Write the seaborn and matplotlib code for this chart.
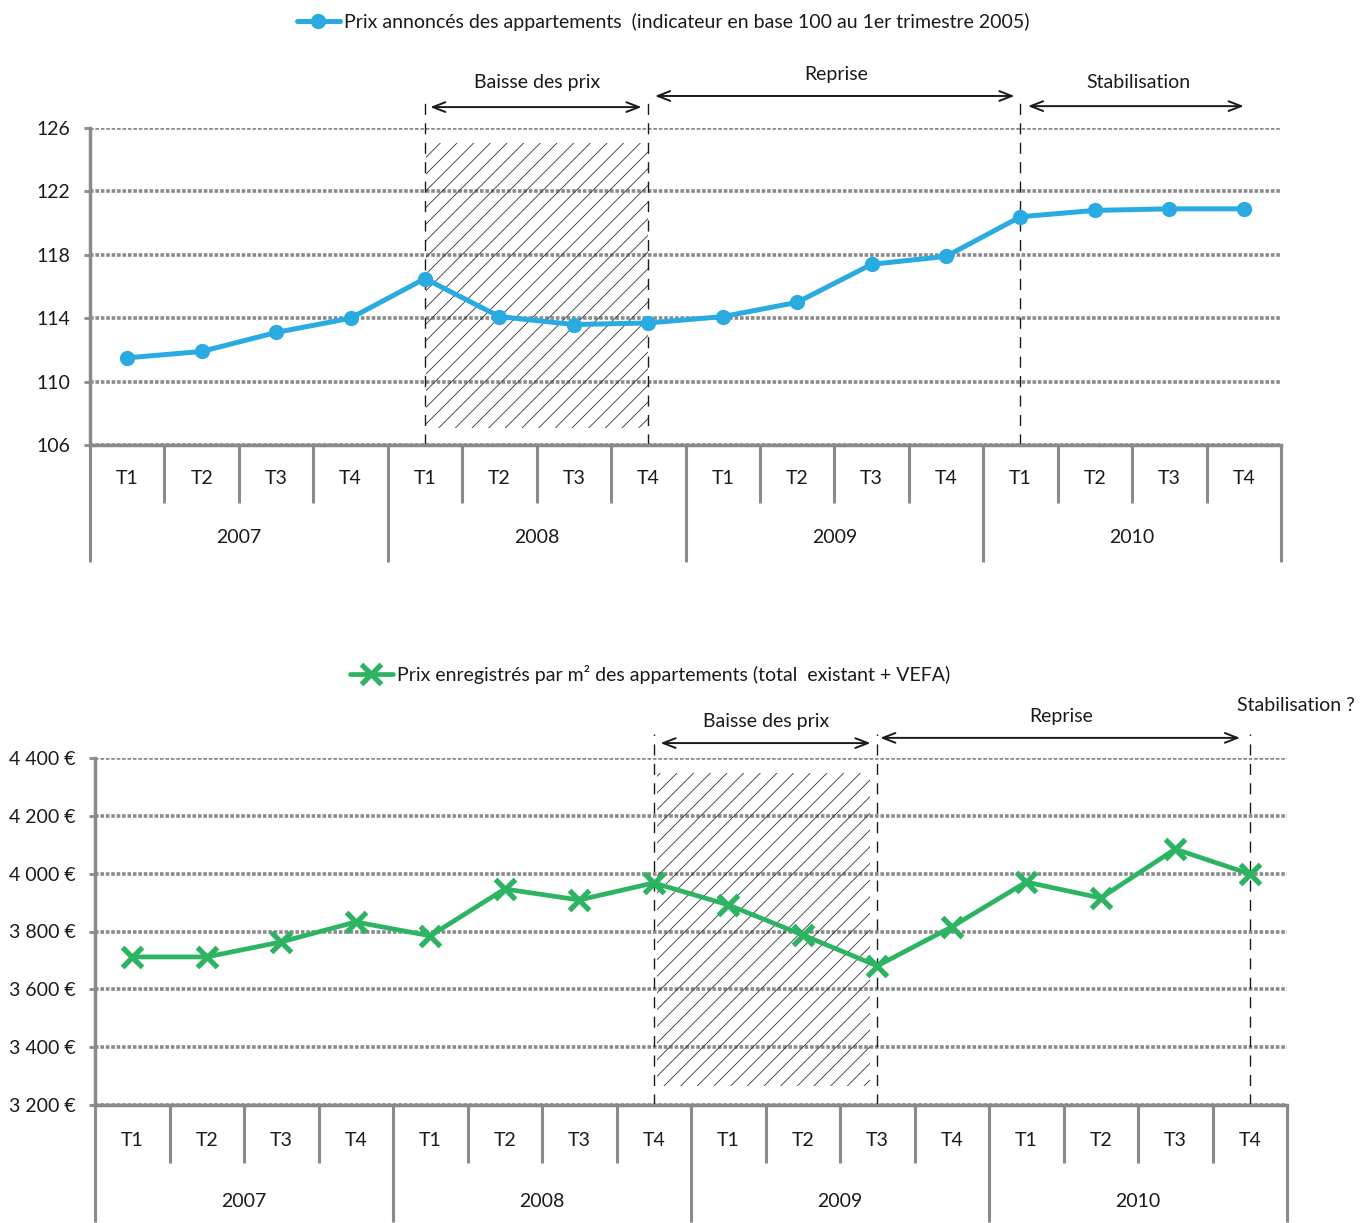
import numpy as np
import pandas as pd
import matplotlib
matplotlib.use('Agg')
import matplotlib.pyplot as plt
import seaborn as sns

# data
quarters = ['T1', 'T2', 'T3', 'T4'] * 4
years = ['2007', '2008', '2009', '2010']
prix_annonces = [111.5, 111.9, 113.1, 114.0, 116.5, 114.1, 113.6, 113.7,
                 114.1, 115.0, 117.4, 117.9, 120.4, 120.8, 120.9, 120.9]
prix_m2 = [3712, 3712, 3764, 3833, 3785, 3947, 3909, 3968,
           3892, 3788, 3681, 3816, 3971, 3916, 4085, 3999]
label_top = 'Prix annoncés des appartements  (indicateur en base 100 au 1er trimestre 2005)'
label_bot = 'Prix enregistrés par m² des appartements (total  existant + VEFA)'

sns.set_style('white')
plt.rcParams['font.family'] = ['Lato', 'DejaVu Sans']
plt.rcParams['hatch.linewidth'] = 0.6

GRAY = '#8a8a8d'
TXT = '#1a1a1a'
BLUE = '#29abe2'
GREEN = '#2db463'
FS = 14

df_top = pd.DataFrame({'i': range(16), 'v': prix_annonces})
df_bot = pd.DataFrame({'i': range(16), 'v': prix_m2})

fig = plt.figure(figsize=(13.6, 12.23), dpi=100)
ax1 = fig.add_axes([90/1360, 1-445/1223, (1281-90)/1360, 317/1223])
ax2 = fig.add_axes([95/1360, 1-1105/1223, (1287-95)/1360, 347/1223])


def style_axis(ax, yticks, ylabels, tlab_y, ylab_y):
    ax.set_xlim(-0.5, 15.5)
    ax.set_yticks(yticks)
    ax.set_yticklabels(ylabels, fontsize=FS, color=TXT)
    ax.set_ylim(yticks[0], yticks[-1])
    for s in ['top', 'right']:
        ax.spines[s].set_visible(False)
    for s in ['left', 'bottom']:
        ax.spines[s].set_color(GRAY)
        ax.spines[s].set_linewidth(2.5)
    ax.grid(axis='y', color=GRAY, linestyle=(0, (1, 0.5)), linewidth=2.6)
    ax.grid(axis='x', visible=False, which='both')
    ax.set_axisbelow(True)
    ax.tick_params(axis='y', left=True, length=4, width=2, color=GRAY, pad=10)
    # category separators drawn as ticks
    ax.set_xticks([-0.5, 3.5, 7.5, 11.5, 15.5])
    ax.set_xticklabels([])
    ax.set_xticks([k - 0.5 for k in range(16) if k % 4 != 0], minor=True)
    ax.tick_params(axis='x', which='both', bottom=True, direction='out', width=2.2, color=GRAY)
    ax.tick_params(axis='x', which='major', length=84)
    ax.tick_params(axis='x', which='minor', length=42)
    tr = ax.get_xaxis_transform()
    for k, q in enumerate(quarters):
        ax.text(k, tlab_y, q, transform=tr, ha='center', va='center', fontsize=FS, color=TXT)
    for k, yr in enumerate(years):
        ax.text(4*k + 1.5, ylab_y, yr, transform=tr, ha='center', va='center', fontsize=FS, color=TXT)
    ax.set_xlabel('')
    ax.set_ylabel('')


def arrow(ax, x1, x2, y):
    ax.annotate('', xy=(x2, y), xytext=(x1, y), xycoords=ax.get_xaxis_transform(),
                textcoords=ax.get_xaxis_transform(),
                arrowprops=dict(arrowstyle='<->,head_length=0.9,head_width=0.35', color=TXT, lw=1.4,
                                shrinkA=0, shrinkB=0), annotation_clip=False)


def hatch_box(ax, x1, x2, y1, y2):
    ax.fill_between([x1, x2], y1, y2, facecolor='none', edgecolor='#333333', linewidth=0,
                    hatch='//', zorder=1)


# ---- top panel
sns.lineplot(data=df_top, x='i', y='v', ax=ax1, color=BLUE, linewidth=3.6, marker='o',
             markersize=11, markeredgewidth=0, markeredgecolor=BLUE, label=label_top, zorder=5)
style_axis(ax1, [106, 110, 114, 118, 122, 126], ['106', '110', '114', '118', '122', '126'],
           -0.107, -0.293)
hatch_box(ax1, 4.02, 7, 107.1, 125.05)
for xv in [4, 7, 12]:
    ax1.axvline(xv, ymin=0, ymax=1.105, color=TXT, lw=1, dashes=(8, 6), clip_on=False, zorder=2)
arrow(ax1, 4.07, 6.91, 1.066)
arrow(ax1, 7.09, 11.92, 1.101)
arrow(ax1, 12.1, 15.0, 1.069)
tr1 = ax1.get_xaxis_transform()
ax1.text(5.5, 1.142, 'Baisse des prix', transform=tr1, ha='center', va='center', fontsize=FS, color=TXT)
ax1.text(9.53, 1.170, 'Reprise', transform=tr1, ha='center', va='center', fontsize=FS, color=TXT)
ax1.text(13.58, 1.145, 'Stabilisation', transform=tr1, ha='center', va='center', fontsize=FS, color=TXT)
ax1.legend(loc='center', bbox_to_anchor=(663/1360, 1-22/1223), bbox_transform=fig.transFigure,
           frameon=False, fontsize=FS, handlelength=2.2, handletextpad=0.2, labelcolor=TXT)

# ---- bottom panel
sns.lineplot(data=df_bot, x='i', y='v', ax=ax2, color=GREEN, linewidth=3.4, marker='x',
             markersize=15, markeredgewidth=3.8, markeredgecolor=GREEN, label=label_bot, zorder=5)
ticks2 = [3200, 3400, 3600, 3800, 4000, 4200, 4400]
style_axis(ax2, ticks2, [f'{t:,}'.replace(',', '\u00a0') + '\u00a0€' for t in ticks2],
           -0.101, -0.277)
hatch_box(ax2, 7.04, 9.9, 3266, 4348)
for xv in [7, 10, 15]:
    ax2.axvline(xv, ymin=0, ymax=1.07, color=TXT, lw=1, dashes=(8, 6), clip_on=False, zorder=2)
arrow(ax2, 7.09, 9.91, 1.043)
arrow(ax2, 10.04, 14.87, 1.058)
tr2 = ax2.get_xaxis_transform()
ax2.text(8.51, 1.104, 'Baisse des prix', transform=tr2, ha='center', va='center', fontsize=FS, color=TXT)
ax2.text(12.47, 1.121, 'Reprise', transform=tr2, ha='center', va='center', fontsize=FS, color=TXT)
ax2.text(15.62, 1.150, 'Stabilisation ?', transform=tr2, ha='center', va='center', fontsize=FS, color=TXT)
ax2.legend(loc='center', bbox_to_anchor=(650/1360, 1-674/1223), bbox_transform=fig.transFigure,
           frameon=False, fontsize=FS, handlelength=2.2, handletextpad=0.2, labelcolor=TXT)

fig.savefig('out.png', dpi=100)
